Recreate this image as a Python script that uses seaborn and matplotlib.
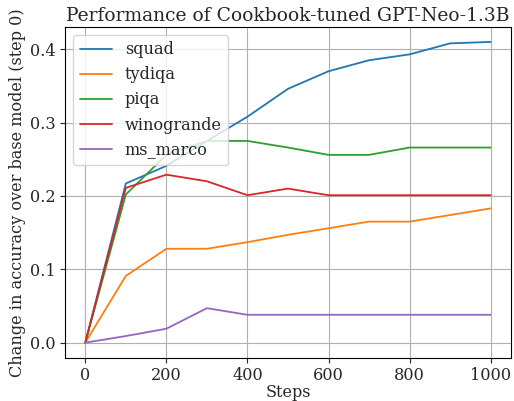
import numpy as np
import pandas as pd
import matplotlib
matplotlib.use("Agg")
import matplotlib.pyplot as plt
import seaborn as sns

sns.set_style("ticks")
plt.rcParams["font.family"] = ["DejaVu Serif"]
plt.rcParams["font.size"] = 11.6

# Data
steps = [0, 100, 200, 300, 400, 500, 600, 700, 800, 900, 1000]
squad = [0.0, 0.217, 0.241, 0.275, 0.308, 0.346, 0.370, 0.385, 0.393, 0.408, 0.410]
tydiqa = [0.0, 0.091, 0.128, 0.128, 0.137, 0.147, 0.156, 0.165, 0.165, 0.174, 0.183]
piqa = [0.0, 0.202, 0.256, 0.275, 0.275, 0.266, 0.256, 0.256, 0.266, 0.266, 0.266]
winogrande = [0.0, 0.211, 0.229, 0.220, 0.201, 0.210, 0.201, 0.201, 0.201, 0.201, 0.201]
ms_marco = [0.0, 0.009, 0.019, 0.047, 0.038, 0.038, 0.038, 0.038, 0.038, 0.038, 0.038]

tasks = {"squad": squad, "tydiqa": tydiqa, "piqa": piqa,
         "winogrande": winogrande, "ms_marco": ms_marco}
df = pd.DataFrame([
    {"step": s, "task": name, "delta": v}
    for name, vals in tasks.items()
    for s, v in zip(steps, vals)
])

fig, ax = plt.subplots(figsize=(5.14, 4.01), dpi=100)
fig.subplots_adjust(left=0.1265, right=0.994, top=0.933, bottom=0.108)

sns.lineplot(data=df, x="step", y="delta", hue="task", palette="tab10",
             linewidth=1.3, ax=ax)

ax.grid(True, color="#b0b0b0", linewidth=0.8)
for sp in ax.spines.values():
    sp.set_visible(True)
    sp.set_color("black")
ax.tick_params(length=3.5, pad=3)
ax.set_xticks([0, 200, 400, 600, 800, 1000])
ax.set_yticks([0.0, 0.1, 0.2, 0.3, 0.4])
ax.set_title("Performance of Cookbook-tuned GPT-Neo-1.3B", fontsize=13.5, pad=4)
ax.set_xlabel("Steps", labelpad=0)
ax.set_ylabel("Change in accuracy over base model (step 0)", labelpad=3)
ax.legend(loc="upper left", title=None)

fig.savefig("out.png", dpi=100)
